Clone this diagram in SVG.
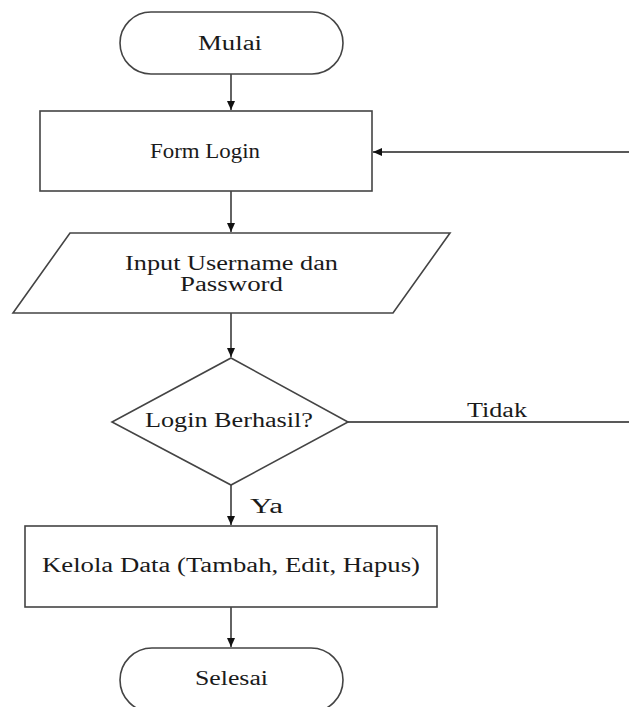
<svg xmlns="http://www.w3.org/2000/svg" width="629" height="707" viewBox="0 0 629 707">
<style>
.s{fill:#fff;stroke:#444;stroke-width:1.6}
.c{fill:none;stroke:#222;stroke-width:1.4}
.t{font-family:"Liberation Serif","Times New Roman",serif;font-size:20px;fill:#1a1a1a}
</style>
<defs>
<marker id="ah" markerWidth="10" markerHeight="10" refX="9" refY="5" orient="auto" markerUnits="userSpaceOnUse">
<path d="M0,1 L9,5 L0,9 Z" fill="#111"/>
</marker>
</defs>
<rect width="629" height="707" fill="#fff"/>
<g id="connectors">
<line class="c" x1="231" y1="74" x2="231" y2="110" marker-end="url(#ah)"/>
<line class="c" x1="231" y1="191" x2="231" y2="232" marker-end="url(#ah)"/>
<line class="c" x1="231" y1="313" x2="231" y2="357" marker-end="url(#ah)"/>
<line class="c" x1="231" y1="485" x2="231" y2="525" marker-end="url(#ah)"/>
<line class="c" x1="231" y1="607" x2="231" y2="647" marker-end="url(#ah)"/>
<line class="c" x1="348" y1="422" x2="629" y2="422"/>
<line class="c" x1="629" y1="152" x2="373" y2="152" marker-end="url(#ah)"/>
<text class="t" x="467" y="417" textLength="60" lengthAdjust="spacingAndGlyphs">Tidak</text>
<text class="t" x="250" y="513" textLength="33" lengthAdjust="spacingAndGlyphs">Ya</text>
</g>
<g id="mulai">
<rect class="s" x="120" y="12" width="223" height="62" rx="31" ry="31"/>
<text class="t" x="198" y="50" textLength="64" lengthAdjust="spacingAndGlyphs">Mulai</text>
</g>
<g id="form-login">
<rect class="s" x="40" y="111" width="332" height="80"/>
<text class="t" x="150" y="158" textLength="110" lengthAdjust="spacingAndGlyphs">Form Login</text>
</g>
<g id="input">
<polygon class="s" points="70,233 450,233 393,313 13,313"/>
<text class="t" x="125" y="270" textLength="213" lengthAdjust="spacingAndGlyphs">Input Username dan</text>
<text class="t" x="180" y="291" textLength="103" lengthAdjust="spacingAndGlyphs">Password</text>
</g>
<g id="decision">
<polygon class="s" points="231,358 348,422 231,485 112,422"/>
<text class="t" x="145" y="427" textLength="168" lengthAdjust="spacingAndGlyphs">Login Berhasil?</text>
</g>
<g id="kelola">
<rect class="s" x="25" y="526" width="412" height="81"/>
<text class="t" x="42" y="572" textLength="378" lengthAdjust="spacingAndGlyphs">Kelola Data (Tambah, Edit, Hapus)</text>
</g>
<g id="selesai">
<rect class="s" x="120" y="648" width="223" height="64" rx="32" ry="32"/>
<text class="t" x="195" y="685" textLength="73" lengthAdjust="spacingAndGlyphs">Selesai</text>
</g>
</svg>
